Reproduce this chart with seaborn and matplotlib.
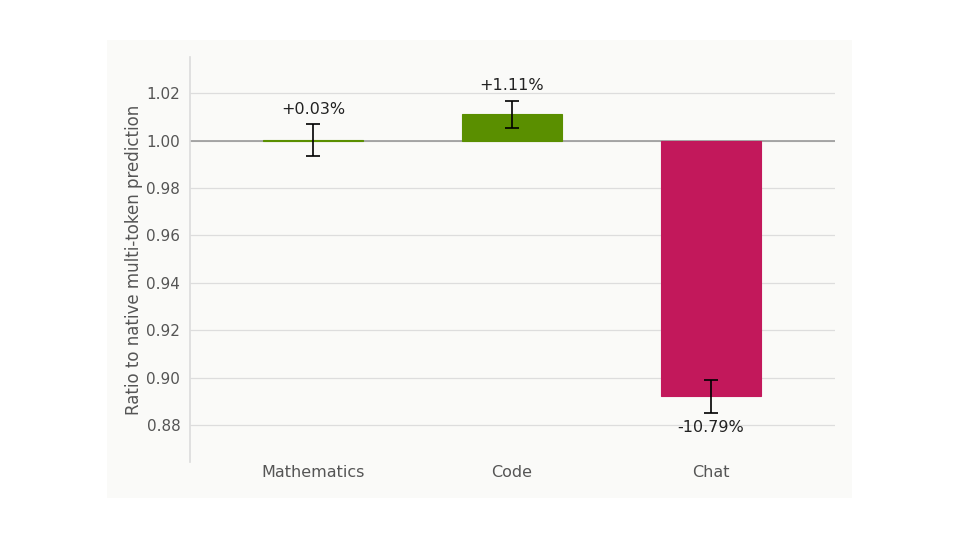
import matplotlib
matplotlib.use("Agg")
import matplotlib.pyplot as plt
import numpy as np
import pandas as pd
import seaborn as sns
from matplotlib.patches import Rectangle

tasks = ["Mathematics", "Code", "Chat"]
ratios = [1.0003, 1.0111, 0.8921]
errors = [0.0066, 0.0058, 0.0071]
labels = ["+0.03%", "+1.11%", "-10.79%"]
colors = ["#5a8f00", "#5a8f00", "#c2185b"]

panel = "#fafaf8"
sns.set_theme(style="white")
plt.rcParams["font.family"] = ["DejaVu Sans"]

df = pd.DataFrame({"task": tasks, "delta": [r - 1.0 for r in ratios]})

fig = plt.figure(figsize=(9.6, 5.4), dpi=100, facecolor="white")
fig.patches.append(Rectangle((107 / 960, 1 - 498 / 540), (852 - 107) / 960, (498 - 40) / 540,
                             transform=fig.transFigure, facecolor=panel, edgecolor="none", zorder=-5))
ax = fig.add_axes([190 / 960, 1 - 462 / 540, (835 - 190) / 960, (462 - 57) / 540])
ax.set_facecolor(panel)

ax.axhline(1.0, color="#999999", lw=1.2, zorder=2)
sns.barplot(data=df, x="task", y="delta", hue="task", palette=colors, legend=False,
            saturation=1, width=0.5, bottom=1.0, ax=ax, zorder=3)
for bar in ax.patches:
    bar.set_edgecolor(bar.get_facecolor())
    bar.set_linewidth(0.8)
ax.errorbar(np.arange(len(tasks)), ratios, yerr=errors, fmt="none", ecolor="black",
            elinewidth=1.2, capsize=5, capthick=1.2, zorder=5)

for i, (r, e, lab) in enumerate(zip(ratios, errors, labels)):
    if r >= 1.0:
        ax.annotate(lab, (i, r + e), xytext=(0, 11), textcoords="offset points",
                    ha="center", va="center", fontsize=11.5, color="#222222")
    else:
        ax.annotate(lab, (i, r - e), xytext=(0, -10.5), textcoords="offset points",
                    ha="center", va="center", fontsize=11.5, color="#222222")

ax.set_ylim(0.8644, 1.0353)
ax.set_xlim(-0.618, 2.623)
ax.set_yticks([0.88, 0.90, 0.92, 0.94, 0.96, 0.98, 1.00, 1.02])
ax.set_yticklabels([f"{v:.2f}" for v in ax.get_yticks()])
ax.yaxis.grid(True, color="#dddddd", lw=0.9, zorder=0)
ax.set_axisbelow(True)
for s in ["top", "right", "bottom"]:
    ax.spines[s].set_visible(False)
ax.spines["left"].set_color("#dddddd")
ax.tick_params(axis="y", length=0, labelsize=11, labelcolor="#555555", pad=7)
ax.tick_params(axis="x", length=0, labelsize=11.5, labelcolor="#555555", pad=2.5)
ax.set_xlabel("")
ax.set_ylabel("Ratio to native multi-token prediction", fontsize=12, color="#555555", labelpad=2.5)

fig.savefig("out.png", dpi=100, facecolor="white")
